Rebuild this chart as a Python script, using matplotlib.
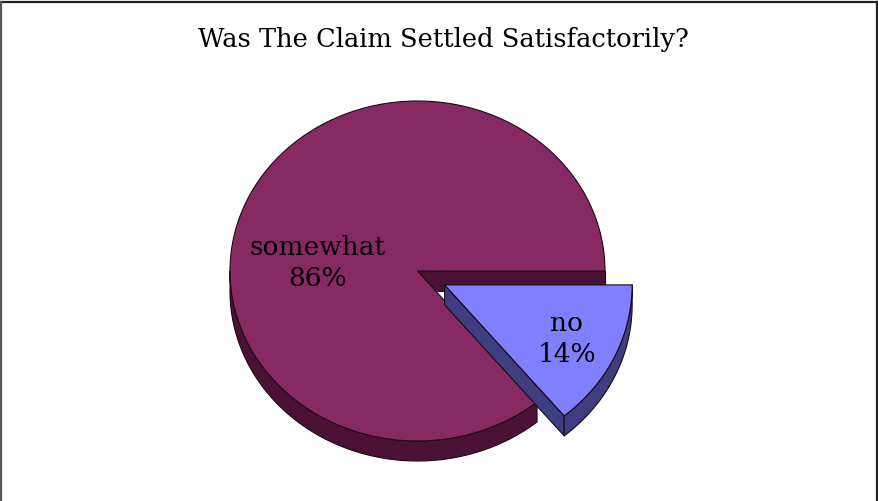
import numpy as np
import matplotlib.pyplot as plt
from matplotlib.patches import Polygon

title = "Was The Claim Settled Satisfactorily?"
labels = ["somewhat", "no"]
values = [86, 14]
explode = [0.0, 0.16]
top_colors = ["#872A64", "#8080FF"]
side_colors = ["#4B1236", "#3E3E80"]

cx, cy = 417.5, 272.0
rx, ry = 187.5, 170.0
depth = 20.0

fig = plt.figure(figsize=(8.79, 5.02), dpi=100)
ax = fig.add_axes([0, 0, 1, 1])
ax.set_xlim(0, 879)
ax.set_ylim(502, 0)
ax.axis("off")


def pt(a, x0, y0, dy=0.0):
    r = np.radians(a)
    return x0 + rx * np.cos(r), y0 + ry * np.sin(r) + dy


def arc(a0, a1, x0, y0, dy=0.0):
    t = np.linspace(a0, a1, max(int(abs(a1 - a0)), 2) + 1)
    x, y = pt(t, x0, y0, dy)
    return np.column_stack([x, y])


def draw_slice(a0, a1, x0, y0, ctop, cside):
    kw = dict(edgecolor="#1a0a14", linewidth=0.8, joinstyle="round")
    # radial faces
    for a, vis in ((a0, -np.cos(np.radians(a0)) > 0), (a1, np.cos(np.radians(a1)) > 0)):
        if vis:
            px, py = pt(a, x0, y0)
            face = [(x0, y0), (px, py), (px, py + depth), (x0, y0 + depth)]
            ax.add_patch(Polygon(face, closed=True, facecolor=cside, **kw))
    # outer wall, front half only
    for k in range(-1, 2):
        lo, hi = max(a0, 360 * k), min(a1, 360 * k + 180)
        if hi > lo:
            upper = arc(lo, hi, x0, y0)
            lower = arc(hi, lo, x0, y0, depth)
            ax.add_patch(Polygon(np.vstack([upper, lower]), closed=True,
                                 facecolor=cside, **kw))
    top = np.vstack([[x0, y0], arc(a0, a1, x0, y0)])
    ax.add_patch(Polygon(top, closed=True, facecolor=ctop, **kw))


edges = -np.cumsum([0] + values) * 360.0 / sum(values)
slices = []
for i in range(len(values)):
    a0, a1 = edges[i + 1], edges[i]
    mid = np.radians((a0 + a1) / 2)
    x0 = cx + explode[i] * rx * np.cos(mid)
    y0 = cy + explode[i] * ry * np.sin(mid) * 1.2
    slices.append((np.sin(mid), a0, a1, x0, y0, i))

for s, a0, a1, x0, y0, i in sorted(slices):
    draw_slice(a0, a1, x0, y0, top_colors[i], side_colors[i])

font = "DejaVu Serif"
label_pos = [(318, 263), (567, 339)]
for i, lab in enumerate(labels):
    ax.text(label_pos[i][0], label_pos[i][1], f"{lab}\n{values[i]}%",
            ha="center", va="center", fontsize=19, family=font,
            linespacing=1.3, color="black")

ax.text(443, 39, title, ha="center", va="center", fontsize=18.5, family=font)

# chart frame (top, left, right)
ax.plot([1, 878], [3, 3], color="#222222", linewidth=1.6)
ax.plot([1.5, 1.5], [3, 502], color="#555555", linewidth=1.6)
ax.plot([877.5, 877.5], [3, 502], color="#222222", linewidth=1.6)

plt.savefig("out.png", dpi=100)
